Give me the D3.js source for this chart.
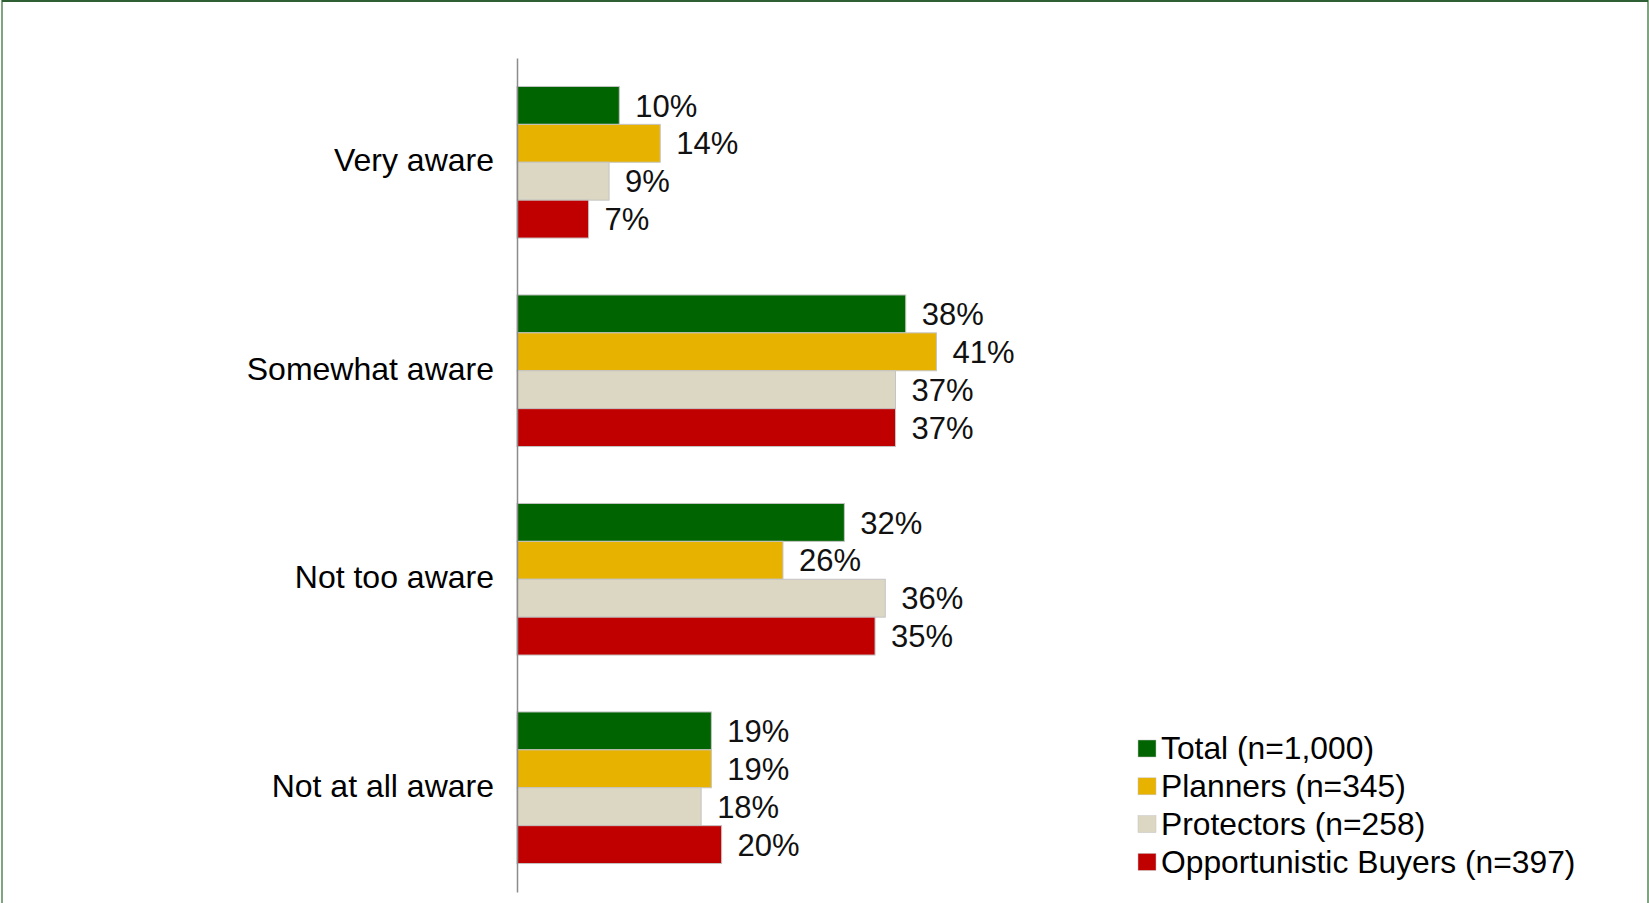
<!DOCTYPE html>
<html>
<head>
<meta charset="utf-8">
<script src="https://cdn.jsdelivr.net/npm/d3@7"></script>
<style>
  body { margin: 0; background: #fff; }
  svg { display: block; font-family: Arial, "Liberation Sans", sans-serif; }
</style>
</head>
<body>
<svg id="chart" width="1649" height="903"></svg>
<script>
// categories (top to bottom) and series
let categories = ["Very aware", "Somewhat aware", "Not too aware", "Not at all aware"];
let seriesNames = ["Total (n=1,000)", "Planners (n=345)", "Protectors (n=258)", "Opportunistic Buyers (n=397)"];
let seriesColors = ["#006400", "#E8B200", "#DCD7C2", "#C00000"];

let totalValues = [10, 38, 32, 19];
let plannerValues = [14, 41, 26, 19];
let protectorValues = [9, 37, 36, 18];
let buyerValues = [7, 37, 35, 20];

let allValues = [totalValues, plannerValues, protectorValues, buyerValues];

let chart = d3.select("#chart");

// frame round the picture
chart.append("rect")
    .attr("x", 2).attr("y", 1)
    .attr("width", 1646).attr("height", 920)
    .attr("fill", "none")
    .attr("stroke", "#7fa47f")
    .attr("stroke-width", 2);
chart.append("line")
    .attr("x1", 2).attr("x2", 1648)
    .attr("y1", 1).attr("y2", 1)
    .attr("stroke", "#2f5f35")
    .attr("stroke-width", 2);

//x,y scales
let x = d3.scaleLinear()
            .domain([0, 45])
            .range([517, 517 + 45 * 10.23]);

let y = d3.scaleBand()
            .domain(categories)
            .range([58, 892])
            .paddingInner(0.273)
            .paddingOuter(0.1365);

let ySub = d3.scaleBand()
            .domain(d3.range(seriesNames.length))
            .range([0, y.bandwidth()]);

// rows of data, one per bar
let rows = [];
categories.forEach(function(c, i) {
    allValues.forEach(function(vals, s) {
        rows.push({cat: c, series: s, value: vals[i]});
    });
});

// bars
chart.selectAll("rect.bar")
    .data(rows)
    .enter()
    .append("rect")
        .attr("class", "bar")
        .attr("x", x(0))
        .attr("y", function(d) { return y(d.cat) + ySub(d.series); })
        .attr("width", function(d) { return x(d.value) - x(0); })
        .attr("height", ySub.bandwidth())
        .attr("fill", function(d) { return seriesColors[d.series]; })
        .attr("stroke", "#c4c4c4")
        .attr("stroke-width", 1);

// value labels
chart.selectAll("text.value")
    .data(rows)
    .enter()
    .append("text")
        .attr("class", "value")
        .attr("x", function(d) { return x(d.value) + 16; })
        .attr("y", function(d) { return y(d.cat) + ySub(d.series) + ySub.bandwidth() / 2; })
        .attr("dy", "0.36em")
        .attr("font-size", "31px")
        .attr("fill", "#111")
        .text(function(d) { return d.value + "%"; });

// vertical axis line with category labels
let yAxis = chart.append("g")
    .attr("transform", "translate(" + x(0) + ",0)")
    .call(d3.axisLeft(y).tickSize(0).tickPadding(23));
yAxis.select(".domain").attr("stroke", "#8c8c8c").attr("stroke-width", 1.5);
yAxis.selectAll("text")
    .attr("font-size", "32px")
    .attr("font-family", "Arial, 'Liberation Sans', sans-serif")
    .attr("fill", "#000")
    .attr("dy", "0.28em");

// legend
let legend = chart.append("g")
    .attr("transform", "translate(1138,748)");

legend.selectAll("rect")
    .data(seriesNames)
    .enter()
    .append("rect")
        .attr("x", 0)
        .attr("y", function(d, i) { return i * 37.8 - 8; })
        .attr("width", 18)
        .attr("height", 17)
        .attr("fill", function(d, i) { return seriesColors[i]; })
        .attr("stroke", "#c4c4c4")
        .attr("stroke-width", 0.5);

legend.selectAll("text")
    .data(seriesNames)
    .enter()
    .append("text")
        .attr("x", 23)
        .attr("y", function(d, i) { return i * 37.8; })
        .attr("dy", "0.36em")
        .attr("font-size", "31.8px")
        .attr("fill", "#000")
        .text(function(d) { return d; });
</script>
</body>
</html>
